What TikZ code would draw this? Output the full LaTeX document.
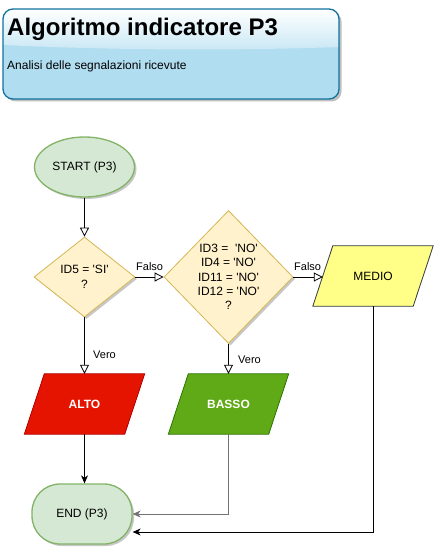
\documentclass[tikz,border=0pt]{standalone}
\usepackage{fontspec}
\setmainfont{Liberation Sans}
\usetikzlibrary{shapes.geometric,arrows.meta,shadows,calc}
\newcommand{\apo}{\textquotesingle}
\definecolor{startfill}{HTML}{D5E8D4}
\definecolor{startdraw}{HTML}{82B366}
\definecolor{decfill}{HTML}{FFF2CC}
\definecolor{decdraw}{HTML}{D6B656}
\definecolor{medfill}{HTML}{FFFF88}
\definecolor{meddraw}{HTML}{36393D}
\definecolor{altofill}{HTML}{E51400}
\definecolor{altodraw}{HTML}{B20000}
\definecolor{bassofill}{HTML}{60A917}
\definecolor{bassodraw}{HTML}{2D7600}
\definecolor{titlefill}{HTML}{B1DDF0}
\definecolor{titledraw}{HTML}{10739E}
\tikzset{
  shad/.style={drop shadow={shadow xshift=2pt,shadow yshift=-2pt,opacity=0.22,fill=black}},
  txt/.style={font=\fontsize{12}{14.4}\selectfont,text=black},
  lbl/.style={font=\fontsize{11}{13}\selectfont,inner sep=0pt},
  term/.style={shad,draw=startdraw,fill=startfill,line width=1.3pt,txt},
  decbox/.style={shad,diamond,draw=decdraw,fill=decfill,line width=0.8pt,inner sep=0pt,txt,align=center},
  iobox/.style={rectangle,minimum width=120pt,minimum height=60pt,inner sep=0pt,txt},
  openarr/.style={-{Triangle[open,length=9pt,width=9pt]},line width=0.8pt},
  fillarr/.style={-{Stealth[length=8pt,width=7pt,inset=2.5pt]},line width=0.8pt},
}
% parallelogram drawn from the corners of an invisible box node
\newcommand{\paragram}[3]{%
  \fill[black,opacity=0.22,shift={(2pt,-2pt)}] (#1.south west) -- ($(#1.north west)+(20,0)$) -- (#1.north east) -- ($(#1.south east)+(-20,0)$) -- cycle;
  \filldraw[fill=#2,draw=#3,line width=0.8pt] (#1.south west) -- ($(#1.north west)+(20,0)$) -- (#1.north east) -- ($(#1.south east)+(-20,0)$) -- cycle;}
\begin{document}
\begin{tikzpicture}[x=1pt,y=-1pt]
\useasboundingbox (0,0) rectangle (444,556);
% title box
\fill[black,opacity=0.25,rounded corners=10pt] (5.5,11.5) rectangle (341.5,101.5);
\begin{scope}
\clip[rounded corners=10pt] (3,9) rectangle (339,99);
\fill[titlefill] (3,9) rectangle (339,99);
\shade[top color=white,bottom color=titlefill!70!white] (3,9) -- (339,9) -- (339,47) .. controls (230,51) and (110,50) .. (3,45) -- cycle;
\end{scope}
\node[draw=titledraw,line width=1.3pt,rounded corners=10pt,minimum width=336pt,minimum height=90pt,inner sep=0pt] (titlebox) at (171,54) {};
\node[anchor=base west,inner sep=0pt,font=\fontsize{24}{28}\selectfont\bfseries] (title) at (7,36) {Algoritmo indicatore P3};
\node[anchor=base west,inner sep=0pt,font=\fontsize{12}{14}\selectfont] (sub) at (7,70) {Analisi delle segnalazioni ricevute};

% nodes
\node[term,ellipse,minimum width=100pt,minimum height=60pt,inner sep=0pt] (start) at (84.5,167) {START (P3)};
\node[decbox,minimum width=101pt,minimum height=80pt] (d1) at (84.5,277) {ID5 = \apo SI\apo\\?};
\node[decbox,minimum width=129pt,minimum height=133pt] (d2) at (228.5,277) {ID3 =~ \apo NO\apo\\ID4 = \apo NO\apo\\ID11 = \apo NO\apo\\ID12 = \apo NO\apo\\?};
\node[iobox] (medio) at (373,276) {};
\paragram{medio}{medfill}{meddraw}
\node[txt] (mediotxt) at (medio.center) {MEDIO};
\node[iobox] (alto) at (84.5,404) {};
\paragram{alto}{altofill}{altodraw}
\node[txt,text=white,font=\fontsize{12}{14.4}\selectfont\bfseries] (altotxt) at (alto.center) {ALTO};
\node[iobox] (basso) at (228.5,404) {};
\paragram{basso}{bassofill}{bassodraw}
\node[txt,text=white,font=\fontsize{12}{14.4}\selectfont\bfseries] (bassotxt) at (basso.center) {BASSO};
\node[term,rectangle,rounded corners=28pt,minimum width=100pt,minimum height=60pt,inner sep=0pt] (end) at (82,514) {END (P3)};

% connectors
\draw[openarr] (start.south) -- (d1.north);
\draw[openarr] (d1.east) -- (d2.west);
\draw[openarr] (d2.east) -- ($(medio.west)+(10,1)$);
\draw[openarr] (d1.south) -- (alto.north);
\draw[openarr] (d2.south) -- (basso.north);
\draw[fillarr] (alto.south) -- (alto.south |- end.north);
\draw[fillarr,draw=black!55] (basso.south) |- (end.east);
\draw[fillarr] (medio.south) |- ($(end.east)+(0,18)$);

% labels
\node[lbl,anchor=base west] (f1) at (136,270) {Falso};
\node[lbl,anchor=base west] (f2) at (294,270) {Falso};
\node[lbl,anchor=base west] (v1) at (93,358) {Vero};
\node[lbl,anchor=base west] (v2) at (238,363) {Vero};
\end{tikzpicture}
\end{document}
